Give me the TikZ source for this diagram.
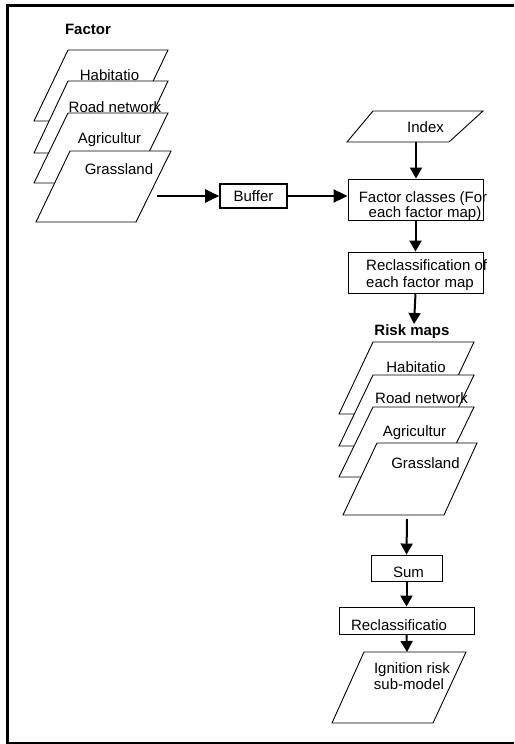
\documentclass[tikz,border=0pt]{standalone}
\usepackage{fontspec}
\setmainfont{Liberation Sans}
\usetikzlibrary{arrows.meta}
\begin{document}
\begin{tikzpicture}[x=1pt,y=-1pt,
  lab/.style={font=\fontsize{15}{17}\selectfont, inner sep=0pt, anchor=base},
  blab/.style={font=\bfseries\fontsize{15}{17}\selectfont, inner sep=0pt, anchor=base},
  para/.style={draw, line width=0.9pt, fill=white, line join=miter},
  box/.style={draw, line width=0.9pt, fill=white, inner sep=0pt},
  harr/.style={line width=2pt, -{Triangle[length=14pt,width=13pt]}},
  varr/.style={line width=2pt, -{Triangle[length=11pt,width=12pt]}}
]
\useasboundingbox (0,0) rectangle (514,744);
% frame
\draw[line width=3pt] (514,5.5) -- (7.5,5.5) -- (7.5,743);
\draw[line width=1.2pt] (6,743) -- (514,743);

% Factor stack
\node[blab] (factor) at (88,34) {Factor};
\draw[para] (68,50) -- (168,50) -- (134,121) -- (34,121) -- cycle;
\node[lab] (f1) at (109.5,80) {Habitatio};
\draw[para] (68,81) -- (168,81) -- (134,153) -- (34,153) -- cycle;
\node[lab] (f2) at (115,112) {Road network};
\draw[para] (68,113) -- (168,113) -- (134,183) -- (34,183) -- cycle;
\node[lab] (f3) at (109.5,143) {Agricultur};
\draw[para] (70,151) -- (171,151) -- (136,222) -- (36,222) -- cycle;
\node[lab] (f4) at (119,174) {Grassland};
\coordinate (fout) at (157,196);

% Buffer
\node[box, line width=1.6pt, minimum width=67pt, minimum height=24pt] (buffer) at (253.5,196) {};
\node[lab] (bufl) at (253.5,201) {Buffer};

% Index
\draw[para] (373,111) -- (483,111) -- (449,142) -- (347,142) -- cycle;
\node[lab] (idx) at (425.5,132) {Index};
\coordinate (iout) at (416,142);

% Factor classes
\node[box, minimum width=135pt, minimum height=41pt] (fc) at (415.5,199.5) {};
\node[lab] (fc1) at (423,202) {Factor classes (For};
\node[lab] (fc2) at (425,217) {each factor map)};

% Reclassification of each factor map
\node[box, minimum width=135pt, minimum height=41pt] (rc) at (415.5,272.5) {};
\node[lab, anchor=base west] (rc1) at (366,270) {Reclassification of};
\node[lab, anchor=base west] (rc2) at (366,287) {each factor map};

% Risk maps
\node[blab] (risk) at (412,335) {Risk maps};
\coordinate (rin) at (414,324);
\draw[para] (373,342) -- (474,342) -- (440,414) -- (339,414) -- cycle;
\node[lab] (r1) at (416,372) {Habitatio};
\draw[para] (373,375) -- (474,375) -- (440,446) -- (339,446) -- cycle;
\node[lab] (r2) at (421.5,403) {Road network};
\draw[para] (373,407) -- (474,407) -- (440,477) -- (339,477) -- cycle;
\node[lab] (r3) at (414.5,436) {Agricultur};
\draw[para] (377,443) -- (477,443) -- (444,515) -- (343,515) -- cycle;
\node[lab] (r4) at (425.5,468) {Grassland};
\coordinate (rout) at (407,519);

% Sum
\node[box, minimum width=71pt, minimum height=26pt] (sum) at (406.5,568) {};
\node[lab] (suml) at (408.5,577) {Sum};

% Reclassificatio
\node[box, minimum width=135pt, minimum height=27pt] (rec) at (406.5,620.5) {};
\node[lab] (recl) at (399,630) {Reclassificatio};

% Ignition risk sub-model
\draw[para] (364,652) -- (466,652) -- (433,723) -- (332,723) -- cycle;
\node[lab] (ig1) at (412,673) {Ignition risk};
\node[lab] (ig2) at (409,689) {sub-model};
\coordinate (igin) at (407,652);

% connectors
\draw[harr] (fout) -- (buffer.west |- fout);
\draw[harr] (buffer.east) -- (buffer.east -| fc.west);
\draw[varr] (iout) -- (iout |- fc.north);
\draw[varr] (fc.south) -- (rc.north);
\draw[varr] (rc.south) -- (rin);
\draw[varr] (rout) -- (sum.north);
\draw[varr] (sum.south) -- (rec.north);
\draw[varr] (rec.south) -- (igin);
\end{tikzpicture}
\end{document}
